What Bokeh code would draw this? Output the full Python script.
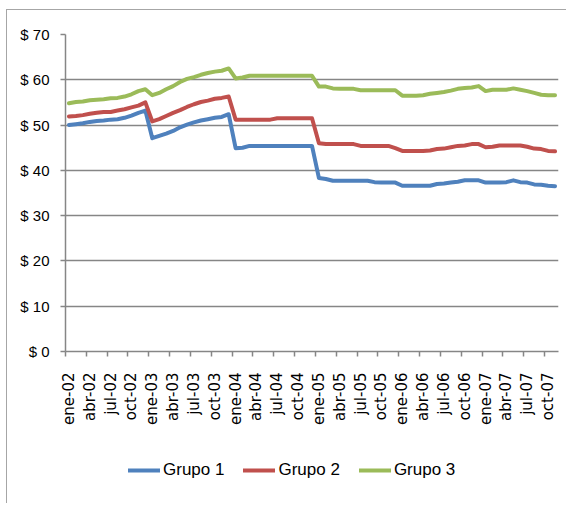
import math
from bokeh.plotting import figure
from bokeh.layouts import column
from bokeh.models import Range1d, FixedTicker, Legend, LegendItem, ColumnDataSource
from bokeh.embed import file_html
from bokeh.resources import INLINE

# ---- data -----------------------------------------------------------------
tick_labels = ["ene-02", "abr-02", "jul-02", "oct-02",
               "ene-03", "abr-03", "jul-03", "oct-03",
               "ene-04", "abr-04", "jul-04", "oct-04",
               "ene-05", "abr-05", "jul-05", "oct-05",
               "ene-06", "abr-06", "jul-06", "oct-06",
               "ene-07", "abr-07", "jul-07", "oct-07"]

grupo1 = [50.0, 50.2, 50.4, 50.7, 50.9, 51.0, 51.2, 51.3, 51.6, 52.1, 52.7, 53.2,
          47.1, 47.6, 48.1, 48.7, 49.5, 50.1, 50.6, 51.0, 51.3, 51.6, 51.8, 52.4,
          44.9, 45.0, 45.4, 45.4, 45.4, 45.4, 45.4, 45.4, 45.4, 45.4, 45.4, 45.4,
          38.3, 38.1, 37.7, 37.7, 37.7, 37.7, 37.7, 37.7, 37.4, 37.3, 37.3, 37.3,
          36.6, 36.6, 36.6, 36.6, 36.6, 37.0, 37.1, 37.3, 37.5, 37.8, 37.8, 37.8,
          37.3, 37.3, 37.3, 37.4, 37.8, 37.4, 37.3, 36.9, 36.8, 36.6, 36.5]

grupo2 = [51.9, 52.0, 52.2, 52.5, 52.7, 52.9, 52.9, 53.2, 53.5, 53.9, 54.3, 55.0,
          50.8, 51.3, 52.0, 52.7, 53.3, 54.0, 54.6, 55.1, 55.4, 55.8, 56.0, 56.3,
          51.2, 51.2, 51.2, 51.2, 51.2, 51.2, 51.5, 51.5, 51.5, 51.5, 51.5, 51.5,
          46.0, 45.8, 45.8, 45.8, 45.8, 45.8, 45.4, 45.4, 45.4, 45.4, 45.4, 44.9,
          44.3, 44.3, 44.3, 44.3, 44.4, 44.7, 44.8, 45.1, 45.4, 45.5, 45.8, 45.8,
          45.1, 45.2, 45.5, 45.5, 45.5, 45.5, 45.2, 44.8, 44.7, 44.3, 44.2]

grupo3 = [54.8, 55.1, 55.2, 55.5, 55.6, 55.7, 55.9, 56.0, 56.3, 56.8, 57.5, 57.9,
          56.6, 57.1, 57.9, 58.6, 59.5, 60.2, 60.6, 61.1, 61.5, 61.8, 62.0, 62.5,
          60.3, 60.5, 60.9, 60.9, 60.9, 60.9, 60.9, 60.9, 60.9, 60.9, 60.9, 60.9,
          58.5, 58.5, 58.1, 58.0, 58.0, 58.0, 57.7, 57.7, 57.7, 57.7, 57.7, 57.7,
          56.5, 56.5, 56.5, 56.6, 56.9, 57.1, 57.3, 57.6, 58.0, 58.2, 58.3, 58.6,
          57.5, 57.8, 57.8, 57.8, 58.1, 57.8, 57.5, 57.1, 56.7, 56.6, 56.6]

series_names = ["Grupo 1", "Grupo 2", "Grupo 3"]
series_colors = ["#4F81BD", "#C0504D", "#9BBB59"]
y_ticks = [0, 10, 20, 30, 40, 50, 60, 70]
y_labels = ["$ 0", "$ 10", "$ 20", "$ 30", "$ 40", "$ 50", "$ 60", "$ 70"]

# ---- main chart -----------------------------------------------------------
n = len(grupo1)
months = list(range(n))
border = "1px solid #a6a6a6"

p = figure(width=560, height=421, output_backend="svg", toolbar_location=None,
           x_range=Range1d(-0.5, n - 0.5), y_range=Range1d(0, 70),
           min_border_left=58, min_border_right=9, min_border_top=24,
           min_border_bottom=80)
p.margin = (9, 0, 0, 6)
p.styles = {"border-left": border, "border-top": border}
p.outline_line_color = None
p.background_fill_color = "white"
p.border_fill_color = "white"

src = ColumnDataSource(dict(x=months, g1=grupo1, g2=grupo2, g3=grupo3))
for key, col in zip(["g1", "g2", "g3"], series_colors):
    p.line("x", key, source=src, line_color=col, line_width=4,
           line_join="round", line_cap="round")

label_pos = [3 * i for i in range(len(tick_labels))]
boundaries = [3 * i - 0.5 for i in range(len(tick_labels))]
xa = p.xaxis[0]
xa.ticker = FixedTicker(ticks=label_pos, minor_ticks=boundaries)
xa.major_label_overrides = {pos: lab for pos, lab in zip(label_pos, tick_labels)}
xa.major_label_orientation = math.pi / 2
xa.major_tick_out = 0
xa.major_tick_in = 0
xa.minor_tick_out = 5
xa.minor_tick_in = 0
xa.minor_tick_line_color = "#868686"
xa.minor_tick_line_width = 1.5
xa.axis_line_color = "#868686"
xa.axis_line_width = 1.5
xa.major_label_text_font = "DejaVu Sans"
xa.major_label_text_font_size = "15px"
xa.major_label_text_color = "black"
xa.major_label_standoff = 16

ya = p.yaxis[0]
ya.ticker = FixedTicker(ticks=y_ticks, minor_ticks=[])
ya.major_label_overrides = {t: lab for t, lab in zip(y_ticks, y_labels)}
ya.major_tick_out = 5
ya.major_tick_in = 0
ya.minor_tick_out = 0
ya.minor_tick_in = 0
ya.major_tick_line_color = "#868686"
ya.major_tick_line_width = 1.5
ya.axis_line_color = "#868686"
ya.axis_line_width = 1.5
ya.major_label_text_font = "Liberation Sans"
ya.major_label_text_font_size = "15px"
ya.major_label_text_color = "black"
ya.major_label_standoff = 11

p.xgrid.grid_line_color = None
p.ygrid.ticker = FixedTicker(ticks=y_ticks)
p.ygrid.grid_line_color = "#868686"
p.ygrid.grid_line_width = 1.5

# ---- legend strip (same series, drawn outside its visible range) ----------
q = figure(width=560, height=73, output_backend="svg", toolbar_location=None,
           x_axis_location=None, y_axis_location=None, min_border=0,
           x_range=Range1d(-200, -100), y_range=Range1d(-200, -100))
q.margin = (0, 0, 0, 6)
q.styles = {"border-left": border}
q.outline_line_color = None
q.xgrid.visible = False
q.ygrid.visible = False
items = []
for nm, key, col in zip(series_names, ["g1", "g2", "g3"], series_colors):
    r = q.line("x", key, source=src, line_color=col, line_width=4, line_cap="round")
    items.append(LegendItem(label=nm, renderers=[r]))
legend = Legend(items=items, orientation="horizontal", location=(63, 23),
                glyph_width=32, glyph_height=20, label_height=20,
                label_standoff=3, spacing=19, padding=0, margin=0,
                border_line_color=None, background_fill_alpha=0,
                label_text_font="Liberation Sans",
                label_text_font_size="17px", label_text_color="black")
q.add_layout(legend, "center")

layout = column(p, q, spacing=0)
open("out.html", "w").write(file_html(layout, INLINE))
